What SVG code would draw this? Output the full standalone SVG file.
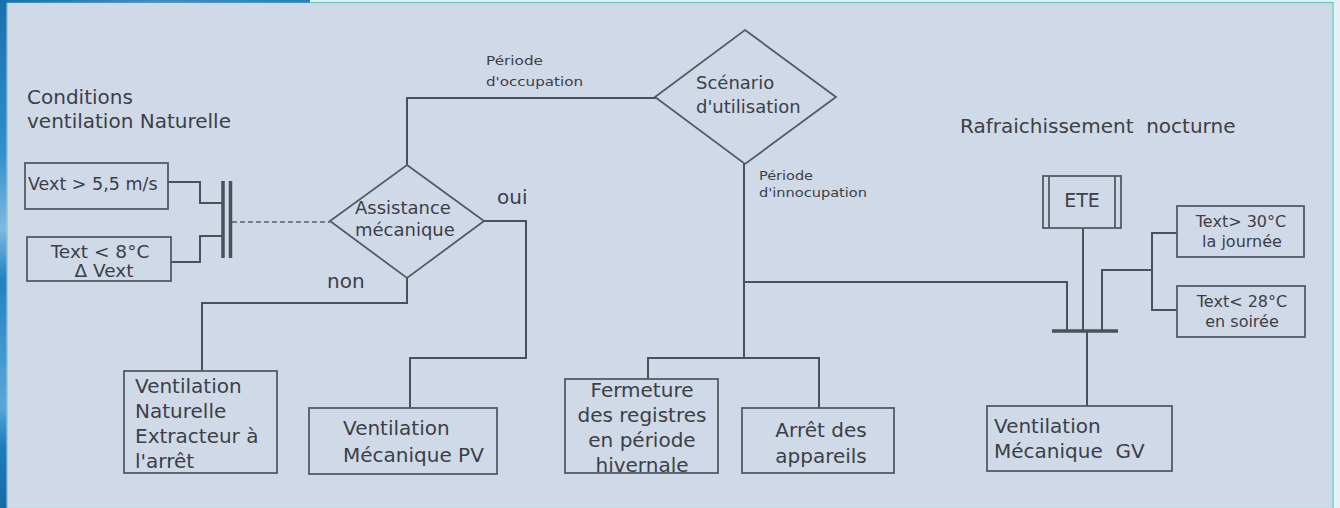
<svg xmlns="http://www.w3.org/2000/svg" width="1340" height="508" viewBox="0 0 1340 508">
<defs>
<linearGradient id="edge" x1="0" y1="0" x2="0" y2="1">
<stop offset="0" stop-color="#1a6fae"/>
<stop offset="0.3" stop-color="#2f8fcf"/>
<stop offset="0.45" stop-color="#7fb9e2"/>
<stop offset="0.55" stop-color="#1f82c4"/>
<stop offset="0.8" stop-color="#5aa6da"/>
<stop offset="0.88" stop-color="#1d7cbd"/>
<stop offset="1" stop-color="#166aa8"/>
</linearGradient>
<linearGradient id="topband" x1="0" y1="0" x2="1" y2="0">
<stop offset="0" stop-color="#1b6fae"/>
<stop offset="0.5" stop-color="#3d8cc6"/>
<stop offset="1" stop-color="#2a7fb8"/>
</linearGradient>
<style>
.t{font-family:"DejaVu Sans",Verdana,sans-serif;fill:#3c3f46}
.b{font-size:20px}
.m{font-size:18px}
.s{font-size:16px}
.xs{font-size:12px}
.box{fill:none;stroke:#555a64;stroke-width:1.8}
.ln{fill:none;stroke:#4b505a;stroke-width:2}
.bar{fill:none;stroke:#4b505a;stroke-width:3.5}
.dash{fill:none;stroke:#5a5f69;stroke-width:1.4;stroke-dasharray:5 3}
</style>
</defs>
<rect x="0" y="0" width="1340" height="508" fill="#e3f3f3"/>
<rect x="7" y="2.5" width="1326" height="506" fill="#d0d9e8" stroke="#6ac8c3" stroke-width="1.2"/>
<rect x="0" y="0" width="6.5" height="508" fill="url(#edge)"/>
<rect x="0" y="0" width="310" height="2.6" fill="url(#topband)"/>

<g id="labels">
<text class="t b" x="27" y="104">Conditions</text>
<text class="t b" x="27" y="128">ventilation Naturelle</text>
<text class="t b" x="960" y="133" xml:space="preserve">Rafraichissement  nocturne</text>
<text class="t xs" x="486" y="65" textLength="57" lengthAdjust="spacingAndGlyphs">Période</text>
<text class="t xs" x="486" y="86" textLength="97" lengthAdjust="spacingAndGlyphs">d'occupation</text>
<text class="t xs" x="759" y="180" textLength="54" lengthAdjust="spacingAndGlyphs">Période</text>
<text class="t xs" x="759" y="197" textLength="108" lengthAdjust="spacingAndGlyphs">d'innocupation</text>
<text class="t b" x="497" y="204">oui</text>
<text class="t b" x="327" y="288">non</text>
</g>

<g id="connectors">
<path class="ln" d="M168,182 H200 V203 H222"/>
<path class="ln" d="M171,262 H200 V236 H222"/>
<path class="bar" d="M223,181 V258 M230.5,181 V258"/>
<path class="dash" d="M232,222 H330"/>
<path class="ln" d="M407,165 V98 H656"/>
<path class="ln" d="M407,278 V303 H202 V371"/>
<path class="ln" d="M484,221 H526 V358 H410 V408"/>
<path class="ln" d="M744,164 V358"/>
<path class="ln" d="M648,379 V358 H819 V408"/>
<path class="ln" d="M744,282 H1067 V330"/>
<path class="ln" d="M1083,228 V330"/>
<path class="ln" d="M1177,233 H1152 V310 H1177"/>
<path class="ln" d="M1152,270 H1102 V330"/>
<path class="bar" d="M1052,331 H1118"/>
<path class="ln" d="M1087,331 V406"/>
</g>

<g id="vext">
<rect class="box" x="25" y="163" width="143" height="46"/>
<text class="t" style="font-size:17.5px" x="28" y="190">Vext &gt; 5,5 m/s</text>
</g>
<g id="text8">
<rect class="box" x="27" y="237" width="144" height="44"/>
<text class="t" style="font-size:18.5px" text-anchor="middle" x="100" y="258">Text &lt; 8°C</text>
<text class="t" style="font-size:18.5px" text-anchor="middle" x="104" y="277">Δ Vext</text>
</g>
<g id="assistance">
<polygon class="box" points="407,165 484,221 407,278 330,221"/>
<text class="t m" x="355" y="214">Assistance</text>
<text class="t m" x="355" y="236">mécanique</text>
</g>
<g id="scenario">
<polygon class="box" points="745,30 836,97 745,164 655,97"/>
<text class="t m" x="696" y="89">Scénario</text>
<text class="t m" x="696" y="113">d'utilisation</text>
</g>
<g id="vent-naturelle">
<rect class="box" x="124" y="371" width="153" height="102"/>
<text class="t b" x="135" y="393">Ventilation</text>
<text class="t b" x="135" y="418">Naturelle</text>
<text class="t b" x="135" y="443">Extracteur à</text>
<text class="t b" x="135" y="468">l'arrêt</text>
</g>
<g id="vent-pv">
<rect class="box" x="309" y="408" width="188" height="66"/>
<text class="t b" x="343" y="435">Ventilation</text>
<text class="t b" x="343" y="462">Mécanique PV</text>
</g>
<g id="fermeture">
<rect class="box" x="565" y="379" width="153" height="94"/>
<text class="t b" text-anchor="middle" x="642" y="397">Fermeture</text>
<text class="t b" text-anchor="middle" x="642" y="422">des registres</text>
<text class="t b" text-anchor="middle" x="642" y="447">en période</text>
<text class="t b" text-anchor="middle" x="642" y="472">hivernale</text>
</g>
<g id="arret">
<rect class="box" x="742" y="408" width="152" height="65"/>
<text class="t b" text-anchor="middle" x="821" y="437">Arrêt des</text>
<text class="t b" text-anchor="middle" x="821" y="463">appareils</text>
</g>
<g id="ete">
<rect class="box" x="1043" y="176" width="78" height="52"/>
<path class="box" d="M1049,176 V228 M1115,176 V228"/>
<text class="t" style="font-size:19px" text-anchor="middle" x="1082" y="207">ETE</text>
</g>
<g id="text30">
<rect class="box" x="1177" y="206" width="127" height="51"/>
<text class="t s" text-anchor="middle" x="1241" y="227">Text&gt; 30°C</text>
<text class="t s" text-anchor="middle" x="1242" y="247">la journée</text>
</g>
<g id="text28">
<rect class="box" x="1177" y="286" width="128" height="51"/>
<text class="t s" text-anchor="middle" x="1242" y="307">Text&lt; 28°C</text>
<text class="t s" text-anchor="middle" x="1242" y="327">en soirée</text>
</g>
<g id="vent-gv">
<rect class="box" x="987" y="406" width="185" height="65"/>
<text class="t b" x="994" y="433">Ventilation</text>
<text class="t b" x="994" y="458" xml:space="preserve">Mécanique  GV</text>
</g>
</svg>
